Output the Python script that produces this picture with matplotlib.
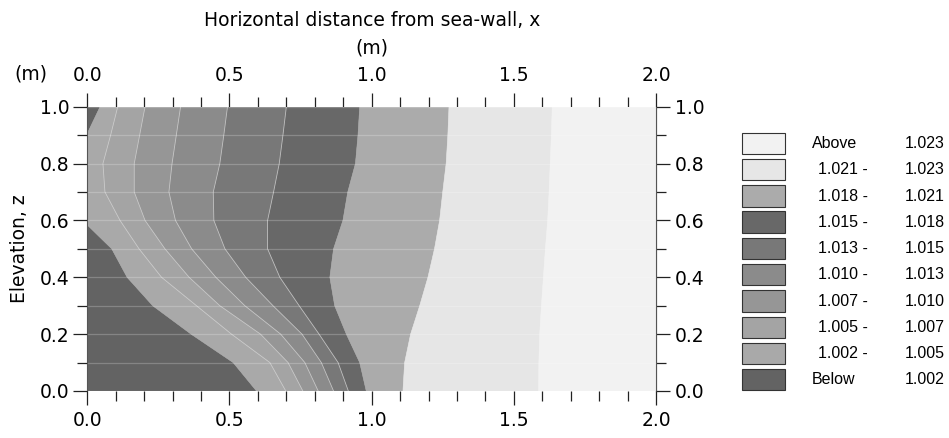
import numpy as np
import matplotlib
matplotlib.use("Agg")
import matplotlib.pyplot as plt
from matplotlib.patches import Rectangle
from matplotlib.ticker import MultipleLocator

plt.rcParams['font.family'] = ['DejaVu Sans']

# density contour levels, and the grey of each band (lowest band first)
levels = [1.002, 1.005, 1.007, 1.010, 1.013, 1.015, 1.018, 1.021, 1.023]
band_colors = ['#636363', '#a9a9a9', '#a4a4a4', '#969696', '#8b8b8b',
               '#787878', '#686868', '#ababab', '#e6e6e6', '#f2f2f2']

z_rows = [0.0, 0.1, 0.2, 0.3, 0.4, 0.5, 0.6, 0.7, 0.8, 0.9, 1.0]

# boundary of the "Below 1.002" zone (own rows, it has kinks between rows)
b0_z = [0.0, 0.1, 0.2, 0.3, 0.4, 0.5, 0.584, 0.906, 1.0]
b0_x = [0.595, 0.513, 0.365, 0.230, 0.140, 0.086, 0.0, 0.0, 0.045]

# x (m) of the other boundaries at each of z_rows
b1_x = [0.698, 0.642, 0.507, 0.384, 0.261, 0.182, 0.115, 0.062, 0.055, 0.082, 0.107]  # 1.005
b2_x = [0.758, 0.706, 0.609, 0.466, 0.358, 0.273, 0.203, 0.165, 0.165, 0.184, 0.203]  # 1.007
b3_x = [0.812, 0.765, 0.680, 0.554, 0.452, 0.367, 0.310, 0.287, 0.298, 0.313, 0.328]  # 1.010
b4_x = [0.866, 0.823, 0.755, 0.653, 0.557, 0.484, 0.445, 0.443, 0.466, 0.480, 0.493]  # 1.013
b5_x = [0.918, 0.882, 0.815, 0.745, 0.677, 0.634, 0.634, 0.655, 0.675, 0.688, 0.700]  # 1.015
b6_x = [0.981, 0.958, 0.911, 0.870, 0.853, 0.866, 0.899, 0.916, 0.943, 0.952, 0.958]  # 1.018
b7_x = [1.110, 1.116, 1.137, 1.169, 1.198, 1.221, 1.239, 1.250, 1.262, 1.268, 1.272]  # 1.021
b8_x = [1.587, 1.588, 1.591, 1.597, 1.604, 1.611, 1.619, 1.624, 1.628, 1.632, 1.635]  # 1.023

x_max = 2.0

bounds = [(b0_x, b0_z)] + [(bx, z_rows) for bx in
                           [b1_x, b2_x, b3_x, b4_x, b5_x, b6_x, b7_x, b8_x]]

FS = 13.5
fig = plt.figure(figsize=(9.49, 4.38), dpi=100)
ax = fig.add_axes([87.3 / 949, 1 - 391 / 438, (656 - 87.3) / 949, (391 - 106.7) / 438])

# bands: polygon between boundary k-1 and boundary k
for k in range(len(bounds) + 1):
    if k == 0:
        rx, rz = bounds[0]
        xs = [0.0] + list(rx) + [0.0]
        zs = [0.0] + list(rz) + [1.0]
    else:
        lx, lz = bounds[k - 1]
        if k < len(bounds):
            rx, rz = bounds[k]
        else:
            rx, rz = [x_max, x_max], [0.0, 1.0]
        xs = list(lx) + list(rx)[::-1]
        zs = list(lz) + list(rz)[::-1]
    ax.fill(xs, zs, facecolor=band_colors[k], edgecolor=band_colors[k], lw=0.4, zorder=1)

# thin light contour lines between the similar greys
for bx, bz in bounds[1:6]:
    ax.plot(bx, bz, color='#d4d4d4', lw=0.6, alpha=0.8, zorder=2)

ax.set_xlim(0, 2)
ax.set_ylim(0, 1)
ax.set_axisbelow(False)
ax.yaxis.grid(True, which='both', color='white', alpha=0.22, lw=0.9)

fmt = lambda v, p: f"{v:.1f}"
top = ax.secondary_xaxis('top')
right = ax.secondary_yaxis('right')
for a in [ax.xaxis, top.xaxis]:
    a.set_major_locator(MultipleLocator(0.5))
    a.set_minor_locator(MultipleLocator(0.1))
    a.set_major_formatter(fmt)
for a in [ax.yaxis, right.yaxis]:
    a.set_major_locator(MultipleLocator(0.2))
    a.set_minor_locator(MultipleLocator(0.1))
    a.set_major_formatter(fmt)

for a in [ax, top, right]:
    a.tick_params(which='both', direction='out', color='#222222', width=0.9, labelsize=FS)
    a.tick_params(which='major', length=10)
    a.tick_params(which='minor', length=7)
ax.tick_params(axis='x', which='major', pad=4.3)
ax.tick_params(axis='y', which='major', pad=3)
top.tick_params(which='major', pad=5.5)
right.tick_params(which='major', pad=3.5)

for a in [ax, top, right]:
    for s in a.spines.values():
        s.set_color('#555555')
        s.set_linewidth(0.8)
ax.spines['top'].set_visible(False)
ax.spines['bottom'].set_visible(False)
top.spines['top'].set_visible(False)

fig.text(371.7 / 949, 1 - 20.5 / 438, "Horizontal distance from sea-wall, x",
         ha='center', va='center', fontsize=FS)
fig.text(371.7 / 949, 1 - 48 / 438, "(m)", ha='center', va='center', fontsize=FS)
fig.text(31 / 949, 1 - 74.5 / 438, "(m)", ha='center', va='center', fontsize=FS)
fig.text(20 / 949, 1 - 249 / 438, "Elevation, z", ha='center', va='center',
         rotation=90, fontsize=FS)

# legend, drawn in pixel coordinates
leg = fig.add_axes([0, 0, 1, 1], zorder=5)
leg.set_xlim(0, 949)
leg.set_ylim(438, 0)
leg.axis('off')
row_labels = [("Above", f"{levels[-1]:.3f}")]
for lo, hi in zip(levels[::-1][1:], levels[::-1][:-1]):
    row_labels.append((f"{lo:.3f} -", f"{hi:.3f}"))
row_labels.append(("Below", f"{levels[0]:.3f}"))
row_colors = band_colors[::-1]
for i, ((left, rlab), c) in enumerate(zip(row_labels, row_colors)):
    y0 = 132.7 + i * 26.26
    leg.add_patch(Rectangle((741.7, y0), 43.3, 21.3, facecolor=c,
                            edgecolor='#333333', lw=0.8))
    lx = 812 if left in ("Above", "Below") else 818
    leg.text(lx, y0 + 10.8, left, ha='left', va='center', fontsize=11.5,
             family='Liberation Sans')
    leg.text(905, y0 + 10.8, rlab, ha='left', va='center', fontsize=11.5,
             family='Liberation Sans')

fig.savefig("out.png", dpi=100)
